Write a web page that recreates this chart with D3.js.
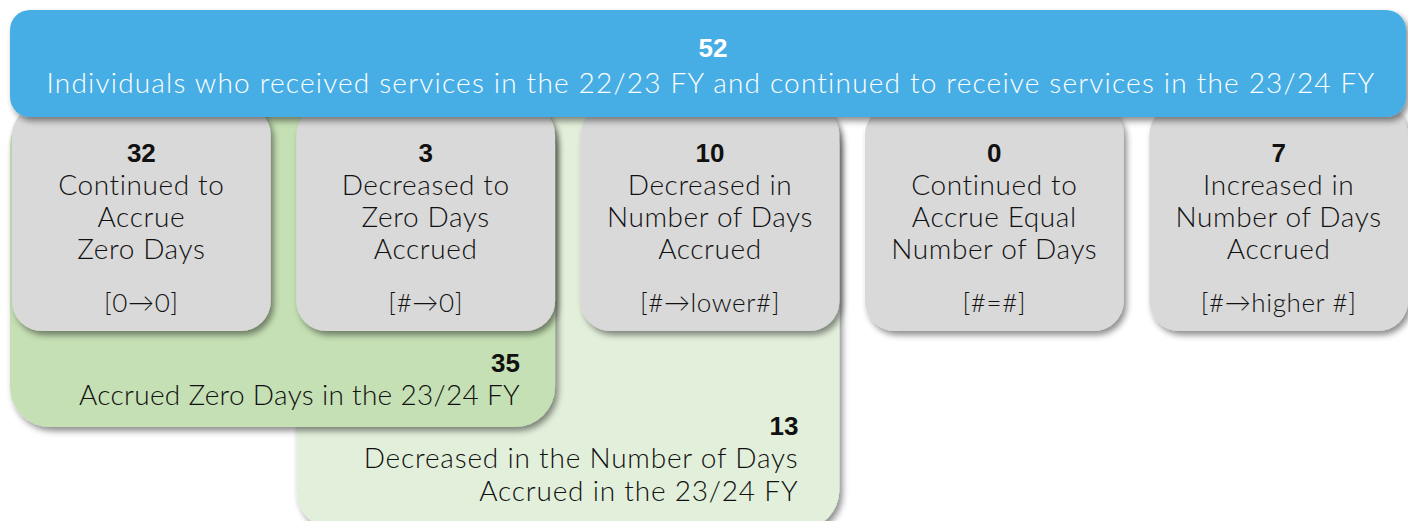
<!DOCTYPE html>
<html>
<head>
<meta charset="utf-8">
<script src="https://cdn.jsdelivr.net/npm/d3@7"></script>
<style>
  body { margin: 0; background: #fff; }
  svg { display: block; }
</style>
</head>
<body>
<script>
// values
const totalCount = 52
const totalLabel = 'Individuals who received services in the 22/23 FY and continued to receive services in the 23/24 FY'

const groupCounts = [32, 3, 10, 0, 7]
const groupLabels = [
    ['Continued to', 'Accrue', 'Zero Days'],
    ['Decreased to', 'Zero Days', 'Accrued'],
    ['Decreased in', 'Number of Days', 'Accrued'],
    ['Continued to', 'Accrue Equal', 'Number of Days'],
    ['Increased in', 'Number of Days', 'Accrued']
]
const groupCodes = ['[0\u21920]', '[#\u21920]', '[#\u2192lower#]', '[#=#]', '[#\u2192higher #]']

// summary boxes: which groups they span
const summaryCounts = [35, 13]
const summaryLabels = [
    ['Accrued Zero Days in the 23/24 FY'],
    ['Decreased in the Number of Days', 'Accrued in the 23/24 FY']
]
const summarySpans = [[0, 1], [1, 2]]

const W = 1408, H = 521
const textFont = 'Lato, "Open Sans", sans-serif'
const numFont = '"Liberation Sans", Arial, sans-serif'

const svg = d3.select('body')
    .append('svg')
    .attr('width', W)
    .attr('height', H)

// drop shadow
const defs = svg.append('defs')
defs.append('filter')
    .attr('id', 'shadow')
    .attr('x', '-10%').attr('y', '-10%')
    .attr('width', '130%').attr('height', '130%')
    .append('feDropShadow')
    .attr('dx', 3)
    .attr('dy', 4)
    .attr('stdDeviation', 3)
    .attr('flood-color', '#000')
    .attr('flood-opacity', 0.45)

// columns for the five groups
const x = d3.scaleBand()
    .domain(d3.range(groupCounts.length))
    .range([12, 1408])
    .paddingInner(0.09)

const boxTop = 105
const boxBottom = 331
const summaryBottoms = [427, 530]   // light box runs off the bottom
const summaryBaselines = [405, 501] // last text line of each
const summaryPads = [35, 41]
const summaryColors = ['#c5e0b4', '#e2efda']
const lineGap = 33

// text helper, light face spaced a little to get the wide look
function label(sel, size, spacing) {
    return sel
        .style('font-family', textFont)
        .style('font-weight', 300)
        .style('font-size', size + 'px')
        .style('letter-spacing', (spacing === undefined ? 0.6 : spacing) + 'px')
        .attr('fill', '#111')
}

/////// summary (green) boxes, light one at the back
const summary = svg.append('g')
const sumData = summaryCounts.map((c, i) => ({
    count: c,
    lines: summaryLabels[i],
    x0: x(summarySpans[i][0]) - (i === 0 ? 2 : 0),
    x1: x(summarySpans[i][1]) + x.bandwidth(),
    bottom: summaryBottoms[i],
    base: summaryBaselines[i],
    pad: summaryPads[i],
    color: summaryColors[i]
})).reverse()

const sg = summary.selectAll('g')
    .data(sumData)
    .enter()
    .append('g')

sg.append('rect')
    .attr('x', d => d.x0)
    .attr('y', boxTop)
    .attr('width', d => d.x1 - d.x0)
    .attr('height', d => d.bottom - boxTop)
    .attr('rx', 40)
    .attr('fill', d => d.color)
    .attr('filter', 'url(#shadow)')

sg.append('text')
    .attr('x', d => d.x1 - d.pad)
    .attr('y', d => d.base - d.lines.length * lineGap)
    .attr('text-anchor', 'end')
    .style('font-family', numFont)
    .style('font-weight', 'bold')
    .style('font-size', '26px')
    .attr('fill', '#111')
    .text(d => d.count)

sg.each(function (d) {
    d3.select(this).selectAll('text.line')
        .data(d.lines)
        .enter()
        .append('text')
        .attr('class', 'line')
        .attr('x', d.x1 - d.pad)
        .attr('y', (l, j) => d.base - (d.lines.length - 1 - j) * lineGap)
        .attr('text-anchor', 'end')
        .call(label, 28, d.lines.length > 1 ? 0.8 : 0.3)
        .text(l => l)
})

/////// the five grey boxes
const groups = svg.append('g')
    .selectAll('g')
    .data(groupCounts)
    .enter()
    .append('g')
    .attr('transform', (d, i) => 'translate(' + x(i) + ',0)')

groups.append('rect')
    .attr('width', x.bandwidth())
    .attr('y', boxTop)
    .attr('height', boxBottom - boxTop)
    .attr('rx', 30)
    .attr('fill', '#d9d9d9')
    .attr('filter', 'url(#shadow)')

const cx = x.bandwidth() / 2

groups.append('text')
    .attr('x', cx)
    .attr('y', 162)
    .attr('text-anchor', 'middle')
    .style('font-family', numFont)
    .style('font-weight', 'bold')
    .style('font-size', '26px')
    .attr('fill', '#111')
    .text(d => d)

groups.each(function (d, i) {
    d3.select(this).selectAll('text.line')
        .data(groupLabels[i])
        .enter()
        .append('text')
        .attr('class', 'line')
        .attr('x', cx)
        .attr('y', (l, j) => 195 + j * 32)
        .attr('text-anchor', 'middle')
        .call(label, 28)
        .text(l => l)
})

groups.append('text')
    .attr('x', cx)
    .attr('y', 312)
    .attr('text-anchor', 'middle')
    .call(label, 26)
    .text((d, i) => groupCodes[i])

/////// blue header on top
const header = svg.append('g')
header.append('rect')
    .attr('x', 10)
    .attr('y', 10)
    .attr('width', 1396)
    .attr('height', 107)
    .attr('rx', 20)
    .attr('fill', '#47aee5')
    .attr('filter', 'url(#shadow)')

header.append('text')
    .attr('x', 713)
    .attr('y', 57)
    .attr('text-anchor', 'middle')
    .style('font-family', numFont)
    .style('font-weight', 'bold')
    .style('font-size', '26px')
    .attr('fill', '#fff')
    .text(totalCount)

header.append('text')
    .attr('x', 711)
    .attr('y', 93)
    .attr('text-anchor', 'middle')
    .call(label, 28, 1.2)
    .attr('fill', '#fff')
    .text(totalLabel)
</script>
</body>
</html>
